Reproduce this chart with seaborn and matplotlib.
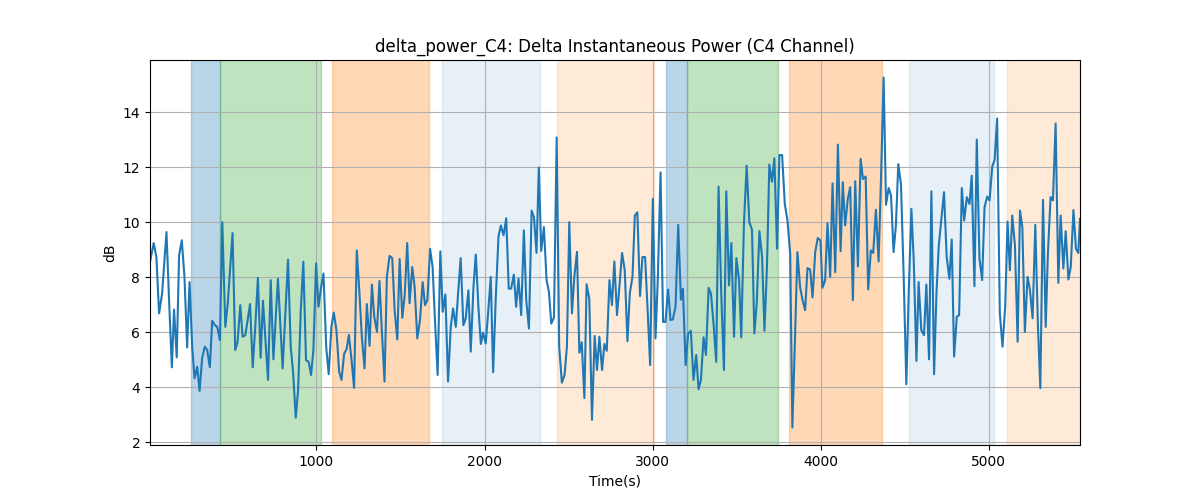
import numpy as np
import matplotlib
matplotlib.use("Agg")
import matplotlib.pyplot as plt
import seaborn as sns

# delta power samples (time in s, power in dB)
t_sec = [10, 32, 48, 64, 82, 108, 124, 140, 153, 169, 183, 199, 215, 231, 245, 261, 275, 291, 305, 320,
         336, 350, 366, 380, 396, 410, 426, 440, 458, 473, 501, 517, 531, 547, 561, 577, 605, 621, 636, 652,
         668, 682, 712, 728, 744, 771,
         799, 831, 847, 861, 877, 891, 907, 922, 938, 954, 968, 982, 998, 1012, 1028, 1042, 1058, 1073, 1089, 1103,
         1119, 1135, 1149, 1165, 1179, 1193, 1209, 1224, 1240, 1256, 1270, 1286, 1300, 1316, 1330, 1344, 1360, 1375, 1389, 1405,
         1419, 1435, 1451, 1465, 1481, 1495, 1511, 1525, 1540, 1554, 1570, 1584,
         1600, 1616, 1632, 1646, 1660, 1676, 1691, 1705, 1721, 1737, 1751, 1767, 1783, 1799, 1813, 1829, 1844, 1858, 1874, 1888,
         1904, 1918, 1934, 1948, 1964, 1978, 1991, 2007, 2021, 2037, 2051, 2067, 2083, 2097, 2113, 2129, 2144, 2158, 2174, 2188,
         2202, 2218, 2234, 2248, 2264, 2280, 2294, 2309, 2323, 2337,
         2353, 2369, 2383, 2397, 2413, 2429, 2444, 2460, 2476, 2490, 2504, 2520, 2534, 2550, 2564, 2578, 2594, 2607, 2623, 2639,
         2655, 2669, 2683, 2699, 2713, 2727, 2743, 2758, 2772, 2788, 2802, 2818, 2834, 2850, 2864, 2880, 2894, 2909, 2925, 2939,
         2955, 2971, 2985, 3001, 3017, 3031, 3047, 3062, 3076, 3092, 3106, 3120, 3136,
         3152, 3168, 3180, 3196, 3211, 3227, 3243, 3259, 3273, 3287, 3303, 3317, 3333, 3347, 3362, 3378, 3392, 3408, 3424, 3438,
         3454, 3468, 3484, 3498, 3514, 3527, 3543, 3559, 3575, 3591, 3605, 3619, 3635, 3651, 3665, 3680, 3694, 3710, 3724, 3740,
         3754, 3770, 3786, 3802, 3818, 3831, 3847, 3861, 3877, 3891, 3907, 3921, 3937,
         3951, 3967, 3982, 3998, 4010, 4026, 4040, 4056, 4070, 4086, 4102, 4118, 4131, 4145, 4161, 4175, 4191, 4205, 4221, 4237,
         4251, 4267, 4282, 4298, 4312, 4328, 4344, 4358, 4374, 4388, 4404, 4418, 4433, 4447, 4461, 4477, 4493, 4509, 4523, 4539,
         4553, 4569, 4582, 4598, 4614, 4628, 4644, 4658, 4674, 4688, 4702,
         4733, 4749, 4765, 4779, 4793, 4809, 4823, 4839, 4853, 4869, 4885, 4898, 4914, 4928, 4944, 4960, 4974, 4990, 5004, 5020,
         5034, 5049, 5065, 5081, 5097, 5111, 5125, 5139, 5155, 5171, 5185, 5199, 5214, 5230, 5244, 5260, 5276, 5292, 5306, 5322,
         5338, 5351, 5367, 5381, 5397, 5413, 5427, 5443, 5457, 5473, 5487, 5503, 5518, 5532, 5542]

power_db = [8.55, 9.24, 8.73, 6.68, 7.40, 9.64, 7.08, 4.72, 6.82, 5.08, 8.79, 9.34, 8.01, 5.44, 7.82, 5.47, 4.32, 4.74, 3.86, 5.05,
            5.47, 5.35, 4.72, 6.41, 6.25, 6.19, 5.71, 10.0, 6.19, 7.08, 9.6, 5.35, 5.65, 6.98, 5.83, 5.89, 7.02, 4.72, 6.19, 7.97,
            5.07, 7.14, 4.26, 7.89, 5.01, 7.94,
            4.68, 8.63, 5.47, 4.56, 2.89, 3.90, 6.80, 8.56, 4.98, 4.92, 4.44, 5.35, 8.50, 6.92, 7.64, 8.13, 5.47, 4.47, 6.19, 6.71,
            6.07, 4.56, 4.26, 5.22, 5.37, 5.90, 4.98, 3.97, 8.97, 7.40, 5.83, 4.68, 7.02, 5.50, 7.73, 6.56, 6.01, 7.86, 6.07, 4.20,
            8.01, 8.77, 8.69, 6.80, 5.73, 8.66, 6.52, 7.34, 9.24, 7.05, 8.37, 7.64,
            5.77, 6.44, 7.82, 6.98, 7.16, 9.03, 8.37, 6.44, 4.44, 8.94, 6.74, 7.37, 4.20, 6.19, 6.86, 6.19, 7.52, 8.69, 6.25, 6.50,
            7.52, 5.29, 7.64, 8.82, 6.86, 5.57, 5.98, 5.59, 6.68, 8.01, 4.54, 7.28, 9.48, 9.88, 9.52, 10.14, 7.58, 7.58, 8.09, 6.92,
            7.94, 6.62, 9.70, 7.16, 6.13, 10.42, 10.18, 8.88, 11.99, 8.95,
            9.82, 7.89, 7.46, 6.31, 6.53, 13.08, 5.47, 4.16, 4.44, 5.47, 10.0, 6.68, 8.01, 8.92, 5.25, 5.63, 3.60, 7.74, 7.22, 2.81,
            5.86, 4.62, 5.83, 4.62, 5.57, 5.32, 7.89, 6.98, 8.57, 6.62, 7.64, 8.88, 8.25, 5.67, 7.40, 8.01, 10.24, 10.36, 7.31, 8.73,
            8.73, 6.68, 4.80, 10.85, 5.77, 8.01, 11.81, 6.37, 6.37, 7.55, 6.44, 6.46, 6.92,
            9.90, 7.18, 7.58, 4.80, 5.95, 6.05, 4.26, 5.17, 3.92, 4.26, 5.81, 5.17, 7.61, 7.40, 6.31, 4.92, 11.29, 7.40, 4.62, 11.12,
            7.70, 9.24, 5.83, 8.69, 7.89, 5.81, 9.94, 12.05, 10.0, 9.72, 5.95, 7.05, 9.67, 8.73, 6.05, 8.37, 12.09, 11.47, 12.32, 9.03,
            12.44, 12.44, 10.66, 10.06, 8.85, 2.53, 5.83, 8.91, 7.64, 7.18, 6.80, 8.33, 8.27,
            7.26, 8.91, 9.42, 9.34, 7.61, 7.89, 9.96, 8.01, 11.41, 8.18, 12.82, 8.94, 11.45, 9.88, 10.85, 11.27, 7.16, 11.49, 8.39, 12.30,
            11.57, 11.66, 7.55, 8.97, 8.88, 10.45, 8.57, 11.53, 15.26, 10.63, 11.24, 10.97, 8.91, 9.88, 12.11, 11.39, 8.07, 4.10, 7.40, 10.48,
            8.61, 4.95, 7.82, 6.07, 5.89, 7.73, 5.01, 11.12, 4.47, 7.40, 9.15,
            11.09, 8.73, 7.94, 9.37, 5.11, 6.56, 6.62, 11.24, 10.06, 10.91, 10.66, 11.69, 7.67, 13.0, 8.67, 7.89, 10.54, 10.93, 10.79, 12.02,
            12.26, 13.77, 6.68, 5.47, 6.92, 10.02, 8.25, 10.24, 9.15, 5.65, 10.42, 9.82, 6.01, 8.01, 7.55, 6.50, 9.90, 6.19, 3.96, 10.81,
            6.19, 8.85, 10.91, 10.79, 13.59, 7.79, 10.24, 8.31, 9.67, 7.91, 8.37, 10.44, 9.03, 8.88, 10.12]

# shaded segments
span_start = [255, 424, 1093, 1745, 2429, 3082, 3202, 3810, 4523, 5105]
span_end = [424, 1028, 1672, 2327, 3009, 3202, 3746, 4366, 5032, 5560]
span_kind = ["b", "g", "o", "pb", "po", "b", "g", "o", "pb", "po"]

kind_style = {
    "b": ("tab:blue", 0.3),
    "g": ("tab:green", 0.3),
    "o": ("tab:orange", 0.3),
    "pb": ("tab:blue", 0.11),
    "po": ("tab:orange", 0.16),
}

fig, ax = plt.subplots(figsize=(12, 5), dpi=100)

for s, e, k in zip(span_start, span_end, span_kind):
    c, a = kind_style[k]
    ax.axvspan(s, e, color=c, alpha=a, lw=1)

sns.lineplot(x=np.array(t_sec), y=np.array(power_db), ax=ax, color="tab:blue", linewidth=1.5)

ax.set_xlim(t_sec[0], t_sec[-1])
ax.grid(True)
ax.set_title("delta_power_C4: Delta Instantaneous Power (C4 Channel)")
ax.set_xlabel("Time(s)")
ax.set_ylabel("dB")

plt.savefig("out.png")
